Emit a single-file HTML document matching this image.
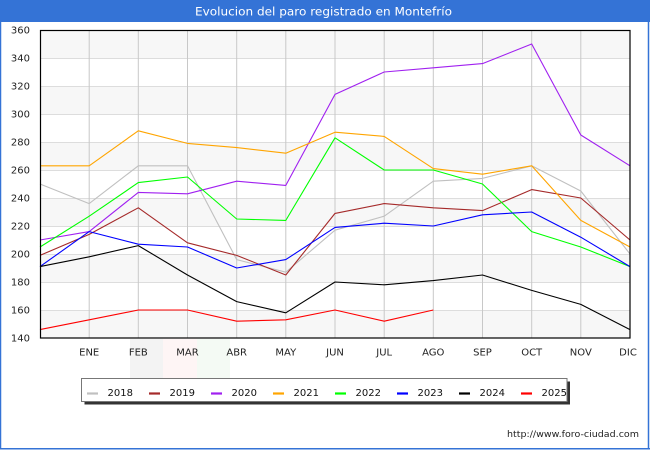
<!DOCTYPE html>
<html><head><meta charset="utf-8"><style>
html,body{margin:0;padding:0;background:#fff;}
svg{display:block;}
text{font-family:"DejaVu Sans","Liberation Sans",sans-serif;}
</style></head><body>
<svg width="650" height="450" viewBox="0 0 650 450" xmlns="http://www.w3.org/2000/svg">
<rect x="0" y="0" width="650" height="450" fill="#fff"/>
<!-- watermark flag -->
<rect x="130" y="339" width="33" height="40" fill="#f3f3f3"/>
<rect x="163" y="339" width="34" height="40" fill="#fef5f5"/>
<rect x="197" y="339" width="33" height="40" fill="#f4faf4"/>
<!-- title bar -->
<rect x="0" y="0" width="650" height="22" fill="#3473d6"/>
<text x="323.5" y="15.5" font-size="11.5" fill="#fff" text-anchor="middle" textLength="257" lengthAdjust="spacingAndGlyphs">Evolucion del paro registrado en Montefrío</text>
<!-- frame -->
<line x1="0.5" y1="22" x2="0.5" y2="449" stroke="#3473d6" stroke-width="1.5"/>
<line x1="648.5" y1="22" x2="648.5" y2="449" stroke="#3473d6" stroke-width="1.5"/>
<line x1="0" y1="448.8" x2="650" y2="448.8" stroke="#3473d6" stroke-width="1.5"/>
<!-- plot bg bands -->
<rect x="40" y="30" width="590" height="308" fill="#fff"/>
<g fill="#f7f7f7">
<rect x="40" y="30" width="590" height="28"/>
<rect x="40" y="86" width="590" height="28"/>
<rect x="40" y="142" width="590" height="28"/>
<rect x="40" y="198" width="590" height="28"/>
<rect x="40" y="254" width="590" height="28"/>
<rect x="40" y="310" width="590" height="28"/>
</g>
<g stroke="#dddddd" stroke-width="1">
<line x1="40" y1="58.5" x2="630" y2="58.5"/>
<line x1="40" y1="86.5" x2="630" y2="86.5"/>
<line x1="40" y1="114.5" x2="630" y2="114.5"/>
<line x1="40" y1="142.5" x2="630" y2="142.5"/>
<line x1="40" y1="170.5" x2="630" y2="170.5"/>
<line x1="40" y1="198.5" x2="630" y2="198.5"/>
<line x1="40" y1="226.5" x2="630" y2="226.5"/>
<line x1="40" y1="254.5" x2="630" y2="254.5"/>
<line x1="40" y1="282.5" x2="630" y2="282.5"/>
<line x1="40" y1="310.5" x2="630" y2="310.5"/>
</g>
<g stroke="#c8c8c8" stroke-width="1">
<line x1="89.2" y1="30" x2="89.2" y2="338"/>
<line x1="138.3" y1="30" x2="138.3" y2="338"/>
<line x1="187.5" y1="30" x2="187.5" y2="338"/>
<line x1="236.7" y1="30" x2="236.7" y2="338"/>
<line x1="285.8" y1="30" x2="285.8" y2="338"/>
<line x1="335" y1="30" x2="335" y2="338"/>
<line x1="384.2" y1="30" x2="384.2" y2="338"/>
<line x1="433.3" y1="30" x2="433.3" y2="338"/>
<line x1="482.5" y1="30" x2="482.5" y2="338"/>
<line x1="531.7" y1="30" x2="531.7" y2="338"/>
<line x1="580.8" y1="30" x2="580.8" y2="338"/>
</g>
<!-- series -->
<g fill="none" stroke-width="1.1" stroke-linejoin="round">
<polyline stroke="#c0c0c0" points="40,184 89.2,203.6 138.3,165.8 187.5,165.8 236.7,259.6 285.8,272.2 335,230.2 384.2,216.2 433.3,181.2 482.5,178.4 531.7,165.8 580.8,191 630,254"/>
<polyline stroke="#a52a2a" points="40,255.4 89.2,234.4 138.3,207.8 187.5,242.8 236.7,255.4 285.8,275 335,213.4 384.2,203.6 433.3,207.8 482.5,210.6 531.7,189.6 580.8,198 630,240"/>
<polyline stroke="#a020f0" points="40,240 89.2,231.6 138.3,192.4 187.5,193.8 236.7,181.2 285.8,185.4 335,94.4 384.2,72 433.3,67.8 482.5,63.6 531.7,44 580.8,135 630,165.8"/>
<polyline stroke="#ffa500" points="40,165.8 89.2,165.8 138.3,130.8 187.5,143.4 236.7,147.6 285.8,153.2 335,132.2 384.2,136.4 433.3,168.6 482.5,174.2 531.7,165.8 580.8,220.4 630,247"/>
<polyline stroke="#00ff00" points="40,247 89.2,216.2 138.3,182.6 187.5,177 236.7,219 285.8,220.4 335,137.8 384.2,170 433.3,170 482.5,184 531.7,231.6 580.8,247 630,266.6"/>
<polyline stroke="#0000ff" points="40,266.6 89.2,231.6 138.3,244.2 187.5,247 236.7,268 285.8,259.6 335,227.4 384.2,223.2 433.3,226 482.5,214.8 531.7,212 580.8,237.2 630,266.6"/>
<polyline stroke="#000000" points="40,266.6 89.2,256.8 138.3,245.6 187.5,275 236.7,301.6 285.8,312.8 335,282 384.2,284.8 433.3,280.6 482.5,275 531.7,290.4 580.8,304.4 630,329.6"/>
<polyline stroke="#ff0000" points="40,329.6 89.2,319.8 138.3,310 187.5,310 236.7,321.2 285.8,319.8 335,310 384.2,321.2 433.3,310"/>
</g>
<rect x="40.5" y="30.5" width="589.5" height="307.5" fill="none" stroke="#000" stroke-width="1.2"/>
<!-- y labels -->
<g font-size="10" fill="#222" text-anchor="end">
<text x="30" y="33.5">360</text>
<text x="30" y="61.5">340</text>
<text x="30" y="89.5">320</text>
<text x="30" y="117.5">300</text>
<text x="30" y="145.5">280</text>
<text x="30" y="173.5">260</text>
<text x="30" y="201.5">240</text>
<text x="30" y="229.5">220</text>
<text x="30" y="257.5">200</text>
<text x="30" y="285.5">180</text>
<text x="30" y="313.5">160</text>
<text x="30" y="341.5">140</text>
</g>
<g font-size="10" fill="#222" text-anchor="middle">
<text x="89.2" y="355.5">ENE</text>
<text x="138.3" y="355.5">FEB</text>
<text x="187.5" y="355.5">MAR</text>
<text x="236.7" y="355.5">ABR</text>
<text x="285.8" y="355.5">MAY</text>
<text x="335" y="355.5">JUN</text>
<text x="384.2" y="355.5">JUL</text>
<text x="433.3" y="355.5">AGO</text>
<text x="482.5" y="355.5">SEP</text>
<text x="531.7" y="355.5">OCT</text>
<text x="580.8" y="355.5">NOV</text>
<text x="628" y="355.5">DIC</text>
</g>
<!-- legend -->
<rect x="84.5" y="381.5" width="485.5" height="23" fill="#333"/>
<rect x="81.5" y="378.5" width="485.5" height="23" fill="#fff" stroke="#777" stroke-width="1"/>
<g stroke-width="2.2">
<line x1="87" y1="393.5" x2="98" y2="393.5" stroke="#c0c0c0"/>
<line x1="149" y1="393.5" x2="160" y2="393.5" stroke="#a52a2a"/>
<line x1="211" y1="393.5" x2="222" y2="393.5" stroke="#a020f0"/>
<line x1="273" y1="393.5" x2="284" y2="393.5" stroke="#ffa500"/>
<line x1="335" y1="393.5" x2="346" y2="393.5" stroke="#00ff00"/>
<line x1="397" y1="393.5" x2="408" y2="393.5" stroke="#0000ff"/>
<line x1="459" y1="393.5" x2="470" y2="393.5" stroke="#000000"/>
<line x1="521" y1="393.5" x2="532" y2="393.5" stroke="#ff0000"/>
</g>
<g font-size="10" fill="#111">
<text x="107.5" y="396">2018</text>
<text x="169.5" y="396">2019</text>
<text x="231.5" y="396">2020</text>
<text x="293.5" y="396">2021</text>
<text x="355.5" y="396">2022</text>
<text x="417.5" y="396">2023</text>
<text x="479.5" y="396">2024</text>
<text x="541.5" y="396">2025</text>
</g>
<text x="639" y="437" font-size="9" fill="#222" text-anchor="end" textLength="132" lengthAdjust="spacingAndGlyphs">http://www.foro-ciudad.com</text>
</svg>
</body></html>
